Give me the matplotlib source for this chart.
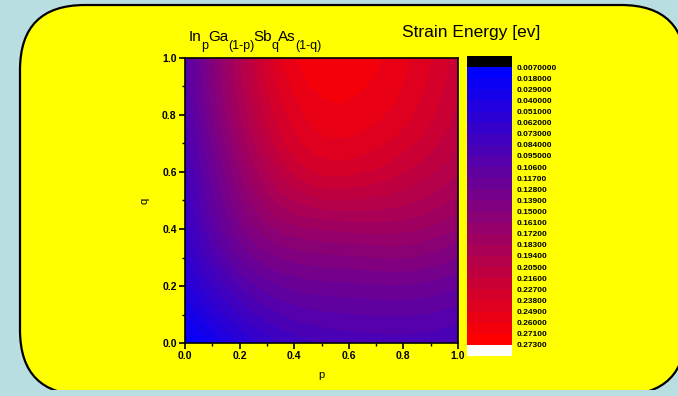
import numpy as np
import matplotlib
matplotlib.use("Agg")
import matplotlib.pyplot as plt
import matplotlib.tri as mtri
from matplotlib.colors import ListedColormap, BoundaryNorm
from matplotlib.patches import FancyBboxPatch, Rectangle
from matplotlib.transforms import IdentityTransform

plt.rcParams['font.family'] = ['Liberation Sans', 'DejaVu Sans']

p_vals = [0.0, 0.2, 0.4, 0.6, 0.8, 1.0]
q_vals = [0.0, 0.2, 0.4, 0.6, 0.8, 1.0]
# rows: q, columns: p
energy = [
    [0.008, 0.050, 0.078, 0.088, 0.090, 0.085],
    [0.045, 0.095, 0.120, 0.125, 0.127, 0.118],
    [0.066, 0.135, 0.168, 0.175, 0.175, 0.160],
    [0.080, 0.160, 0.217, 0.229, 0.216, 0.195],
    [0.092, 0.182, 0.243, 0.256, 0.242, 0.213],
    [0.100, 0.192, 0.258, 0.268, 0.252, 0.222],
]

levels = [0.007, 0.018, 0.029, 0.040, 0.051, 0.062, 0.073, 0.084, 0.095,
          0.106, 0.117, 0.128, 0.139, 0.150, 0.161, 0.172, 0.183, 0.194,
          0.205, 0.216, 0.227, 0.238, 0.249, 0.260, 0.271, 0.273]
level_labels = ["0.0070000", "0.018000", "0.029000", "0.040000", "0.051000",
                "0.062000", "0.073000", "0.084000", "0.095000", "0.10600",
                "0.11700", "0.12800", "0.13900", "0.15000", "0.16100",
                "0.17200", "0.18300", "0.19400", "0.20500", "0.21600",
                "0.22700", "0.23800", "0.24900", "0.26000", "0.27100",
                "0.27300"]

# title pieces: (text, is_subscript)
title_parts = [("In", False), ("p", True), ("Ga", False), ("(1-p)", True),
               ("Sb", False), ("q", True), ("As", False), ("(1-q)", True)]

W, H = 678, 396
fig = plt.figure(figsize=(W / 100, H / 100), dpi=100)
fig.patch.set_facecolor('#b9dee2')

# yellow rounded frame, in figure pixels
frame = FancyBboxPatch((20, 1), 666, 390, boxstyle='round,pad=0,rounding_size=65',
                       facecolor='#ffff00', edgecolor='black', lw=1.6,
                       transform=IdentityTransform(), zorder=-2)
fig.patches.append(frame)
strip = Rectangle((0, 0), W, 6, facecolor='#b9dee2', edgecolor='none',
                  transform=IdentityTransform(), zorder=-1)
fig.patches.append(strip)

ncol = len(levels) - 1
colors = [(i / (ncol - 1), 0, 1 - i / (ncol - 1)) for i in range(ncol)]
cmap = ListedColormap(colors)
cmap.set_under('black')
cmap.set_over('white')
norm = BoundaryNorm(levels, ncol)

P, Q = np.meshgrid(p_vals, q_vals)
z = np.array(energy).ravel()
tri = mtri.Triangulation(P.ravel(), Q.ravel())
refiner = mtri.UniformTriRefiner(tri)
interp = mtri.CubicTriInterpolator(tri, z)
tri_f, z_f = refiner.refine_field(z, triinterpolator=interp, subdiv=4)

ax = fig.add_axes([185 / W, 1 - 343 / H, 273 / W, 285 / H])
ax.set_facecolor('none')
cs = ax.tricontourf(tri_f, z_f, levels=levels, cmap=cmap, norm=norm, extend='both')
ax.set_xlim(0, 1)
ax.set_ylim(0, 1)
ax.set_xticks([0, 0.2, 0.4, 0.6, 0.8, 1.0])
ax.set_yticks([0, 0.2, 0.4, 0.6, 0.8, 1.0])
ax.set_xticks(np.arange(0.1, 1.0, 0.2), minor=True)
ax.set_yticks(np.arange(0.1, 1.0, 0.2), minor=True)
ax.tick_params(which='major', direction='out', length=4, width=1.2, labelsize=7.5, pad=2)
ax.tick_params(which='minor', direction='out', length=2.5, width=1)
for lab in ax.get_xticklabels() + ax.get_yticklabels():
    lab.set_fontweight('bold')
for s in ax.spines.values():
    s.set_linewidth(1.2)
ax.set_xlabel('p', fontsize=8, labelpad=6)
ax.set_ylabel('q', fontsize=8, labelpad=9)

# title built from pieces so the subscripts sit low like the original
renderer = fig.canvas.get_renderer()
x = 189.0
for txt, sub in title_parts:
    size = 9 if sub else 11
    y = H - (49 if sub else 41)
    t = fig.text(x / W, y / H, txt, fontsize=size, va='baseline', ha='left')
    x += t.get_window_extent(renderer).width - 0.4

fig.text(471 / W, 1 - 33 / H, 'Strain Energy [ev]', fontsize=12.5, ha='center', va='center')

cax = fig.add_axes([467 / W, 1 - 356 / H, 45 / W, 300 / H])
cb = fig.colorbar(cs, cax=cax, ticks=levels, extendrect=True, extendfrac=0.04)
cb.outline.set_visible(False)
cax.invert_yaxis()
cax.set_yticks(levels)
cax.set_yticklabels(level_labels)
cax.tick_params(length=0, labelsize=6, pad=3)
for lab in cax.get_yticklabels():
    lab.set_fontweight('bold')

fig.savefig('out.png', dpi=100, facecolor=fig.get_facecolor())
